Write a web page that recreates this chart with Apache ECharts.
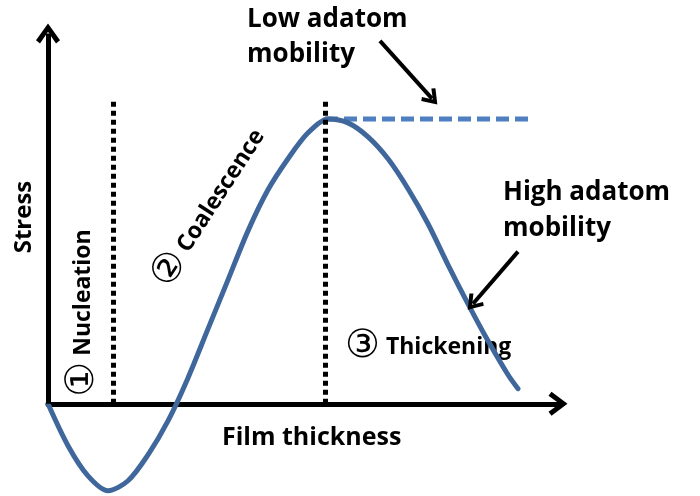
<!DOCTYPE html>
<html>
<head>
<meta charset="utf-8">
<script src="https://cdn.jsdelivr.net/npm/echarts@6/dist/echarts.min.js"></script>
<style>
  html, body { margin: 0; padding: 0; background: #fff; }
  #chart { width: 700px; height: 496px; }
</style>
</head>
<body>
<div id="chart"></div>
<script>
// stress curve (film thickness vs stress, arbitrary units)
const thickness = [0, 4, 8, 12, 16, 20, 24, 28, 32, 36, 40, 44, 48, 52, 56, 60, 64, 68, 72, 76, 80, 84, 88, 92, 94]
const stress = [0, -14.7, -25.3, -30.5, -27.0, -17.9, -6.0, 9.1, 26.3, 43.5, 60.7, 75.1, 86.0, 95.1, 100, 98.6, 93.7, 86.0, 75.5, 63.2, 48.8, 35.1, 22.1, 10.2, 5.3]

// low adatom mobility: stress stays at peak
const plateauX = [55.4, 96.8]
const plateauY = [100, 100]

// stage boundaries
const stageBounds = [13, 55.4]
const stageTop = 106

// annotation arrows [from, to]
const arrowLow = [[66.4, 127.4], [76.8, 107.1]]
const arrowHigh = [[94, 53.4], [85, 35.1]]

const yAxisTop = 130

const chevron = 'path://M12,0 L24,16 L20,19 L12,8 L4,19 L0,16 Z'
const font = '"Open Sans", sans-serif'

const chartDom = document.getElementById('chart')
const chart = echarts.init(chartDom)

// 文字标注
const textEl = (text, x, y, size, rot, align) => ({
  type: 'text',
  x: x, y: y,
  rotation: rot || 0,
  silent: true,
  style: {
    text: text,
    x: 0, y: 0,
    fill: '#000',
    fontFamily: font,
    fontWeight: 'bold',
    fontSize: size,
    align: align || 'center',
    verticalAlign: 'middle',
    rich: {
      c: {
        fontFamily: '"DejaVu Sans", "Noto Sans CJK SC", sans-serif',
        fontWeight: 'normal',
        fontSize: size + 16,
        fill: '#000',
        verticalAlign: 'middle'
      }
    }
  }
})

const option = {
  animation: false,
  grid: { left: 48, top: 22, width: 510, height: 473 },
  xAxis: {
    type: 'value',
    min: 0, max: 102,
    axisLine: {
      onZero: true,
      symbol: ['none', chevron],
      symbolSize: [24, 20],
      lineStyle: { color: '#000', width: 5 }
    },
    axisTick: { show: false },
    axisLabel: { show: false },
    splitLine: { show: false }
  },
  yAxis: {
    type: 'value',
    min: -32, max: 134,
    axisLine: { show: false },
    axisTick: { show: false },
    axisLabel: { show: false },
    splitLine: { show: false }
  },
  series: [
    {
      type: 'line',
      data: thickness.map((x, i) => [x, stress[i]]),
      smooth: 0.3,
      showSymbol: false,
      clip: false,
      lineStyle: { color: '#3f679b', width: 5, cap: 'round', join: 'round' },
      z: 3,
      markLine: {
        silent: true,
        animation: false,
        label: { show: false },
        data: [
          // y axis
          [
            { coord: [0, 0], symbol: 'none', lineStyle: { color: '#000', width: 5, type: 'solid' } },
            { coord: [0, yAxisTop], symbol: chevron, symbolSize: [24, 20] }
          ],
          // stage boundaries
          ...stageBounds.map(x => [
            { coord: [x, 0], symbol: 'none', lineStyle: { color: '#000', width: 5, type: [5, 4] } },
            { coord: [x, stageTop], symbol: 'none' }
          ]),
          // annotation arrows
          ...[arrowLow, arrowHigh].map(a => [
            { coord: a[0], symbol: 'none', lineStyle: { color: '#000', width: 4, type: 'solid' } },
            { coord: a[1], symbol: chevron, symbolSize: [19, 16] }
          ])
        ]
      }
    },
    {
      type: 'line',
      data: plateauX.map((x, i) => [x, plateauY[i]]),
      showSymbol: false,
      clip: false,
      lineStyle: { color: '#4f7fc0', width: 5, type: [13, 6] },
      z: 2
    }
  ],
  graphic: [
    textEl('Stress', 24, 217, 24, Math.PI / 2),
    textEl('{c|\u2460} Nucleation', 83, 313, 23, Math.PI / 2),
    textEl('{c|\u2461} Coalescence', 210, 208, 23, 57 * Math.PI / 180),
    textEl('{c|\u2462} Thickening', 345, 347, 23, 0, 'left'),
    textEl('Film thickness', 222, 438, 25, 0, 'left'),
    textEl('Low adatom', 247, 20, 26, 0, 'left'),
    textEl('mobility', 247, 55, 26, 0, 'left'),
    textEl('High adatom', 503, 193, 26, 0, 'left'),
    textEl('mobility', 503, 229, 26, 0, 'left')
  ]
}

chart.setOption(option, true)
</script>
</body>
</html>
